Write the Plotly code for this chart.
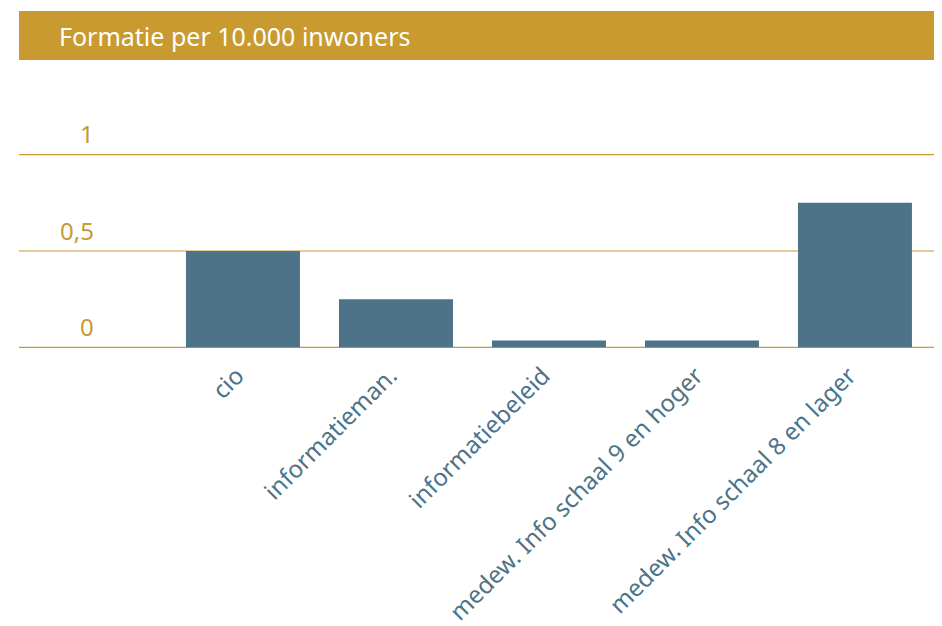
import plotly.graph_objects as go

categories = ["cio", "informatieman.", "informatiebeleid",
              "medew. Info schaal 9 en hoger", "medew. Info schaal 8 en lager"]
values = [0.5, 0.25, 0.035, 0.035, 0.75]
tick_vals = [0, 0.5, 1]
tick_text = ["0", "0,5", "1"]
title_text = "Formatie per 10.000 inwoners"

GOLD = "#C89A30"
BLUE = "#4D7389"
FONT = "Noto Sans, Open Sans, sans-serif"

OFF = 8  # page body margin
PXU = 192  # pixels per unit
PAD = 0.05
W, H = 942 - OFF, 626 - OFF
ybase = 347 - OFF            # pixel of y=0 inside the figure
L, R = 19 - OFF, 0
T = int(round(ybase - PXU * (1 + PAD)))
B = int(round(H - (ybase + PXU * PAD)))
plot_h = H - T - B


def py(pix):
    # page pixel -> paper fraction
    return (H - B - (pix - OFF)) / plot_h


def px(pix):
    return (pix - OFF - L) / (W - L - R)


fig = go.Figure(go.Bar(x=list(range(len(categories))), y=values,
                       marker=dict(color=BLUE, line=dict(width=0))))

fig.update_layout(
    width=W, height=H,
    margin=dict(l=L, r=R, t=T, b=B, autoexpand=False),
    paper_bgcolor="white", plot_bgcolor="white",
    bargap=0.255,
    showlegend=False,
    font=dict(family=FONT),
)

fig.update_xaxes(
    range=[-1.464, 4.569],
    tickmode="array", tickvals=list(range(len(categories))), ticktext=categories,
    tickangle=-45, tickfont=dict(color=BLUE, size=24, family=FONT),
    showgrid=False, zeroline=False, showline=False, ticks="",
    automargin=False, ticklabelstandoff=9 - int(round(PXU * PAD)),
    ticklabelshift=-6,
)
fig.update_yaxes(
    range=[-PAD, 1 + PAD], tickvals=tick_vals, showticklabels=False,
    showgrid=False, zeroline=False, showline=False, automargin=False,
)

# gridlines
for v in tick_vals:
    fig.add_shape(type="line", xref="paper", yref="y", x0=0, x1=1, y0=v, y1=v,
                  line=dict(color=GOLD, width=1.2), layer="below")

# header bar
fig.add_shape(type="rect", xref="paper", yref="paper",
              x0=0, x1=1, y0=py(60), y1=py(11),
              fillcolor=GOLD, line=dict(width=0), layer="below")
fig.add_annotation(text=title_text, xref="paper", yref="paper",
                   x=px(57), y=py(36), xanchor="left", yanchor="middle",
                   showarrow=False, font=dict(color="white", size=25, family=FONT))

for v, t in zip(tick_vals, tick_text):
    fig.add_annotation(text=t, xref="paper", yref="y", x=px(96), y=v,
                       xanchor="right", yanchor="middle", yshift=21,
                       showarrow=False, font=dict(color=GOLD, size=24, family=FONT))

fig.write_html("out.html")
